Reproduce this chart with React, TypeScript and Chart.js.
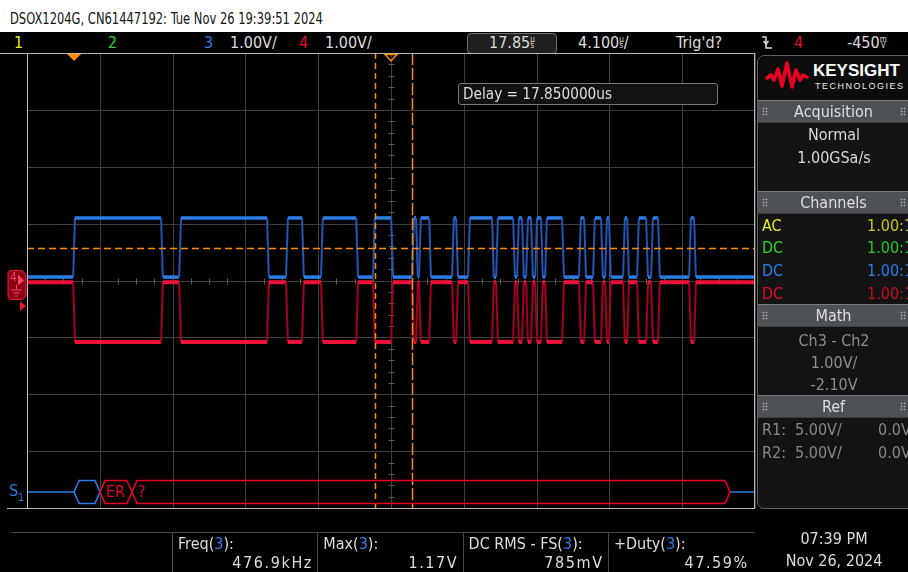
import React, { useEffect, useRef } from "react";
import { Chart, registerables } from "chart.js";

Chart.register(...registerables);

const W = 908;
const H = 572;
const NARROW =
  '"Liberation Sans Narrow", "DejaVu Sans Condensed", "Arial Narrow", "Liberation Sans", sans-serif';

// ---- time base / vertical scale ----
const timePerDiv = 4.1; // µs / div
const delay = 17.85; // µs (screen centre)
const xDivisions = [-5, -4, -3, -2, -1, 0, 1, 2, 3, 4, 5];
const yDivisions = [-4, -3, -2, -1, 0, 1, 2, 3, 4]; // 1.00 V/div

// ---- waveform data (edge times in µs, alternating rise / fall of Ch3) ----
const ch3EdgeTimes = [
  0.0, 4.95, 5.97, 10.92, 11.99, 12.89, 13.96, 15.94, 16.89, 17.91, 19.09, 19.31,
  19.48, 20.05, 21.34, 21.57, 22.24, 23.59, 23.82, 24.78, 25.0, 25.28, 25.51, 25.79,
  26.02, 26.35, 26.58, 27.54, 28.49, 28.78, 29.28, 29.73, 29.96, 30.18, 30.97, 31.2,
  31.76, 32.27, 32.55, 32.94, 34.69, 34.97,
];
const ch3Levels = [0.06, 1.1]; // idle, active (V)
const ch4Levels = [-0.03, -1.08]; // idle, active (V)
const edgeRamp = 0.1; // µs

// ---- markers ----
const levelLineV = 0.58;
const cursorTimes = [16.95, 19.03];
const triggerTime = 0;
const ch4Offset = 0;
const ch4TriggerLevel = -0.45;

// ---- serial decode frames ----
const decodeStarts = [0.0, 1.46, 3.26];
const decodeEnds = [1.46, 3.26, 36.94];
const decodeLabels = ["", "ER", "?"];
const decodeKinds = ["ok", "err", "err"];

// ---- side panel / measurements ----
const channelCoupling = ["AC", "DC", "DC", "DC"];
const channelProbe = ["1.00:1", "1.00:1", "1.00:1", "1.00:1"];
const channelColors = ["rgb(235,235,35)", "rgb(45,215,45)", "rgb(45,125,235)", "rgb(225,10,45)"];
const channelValueColors = ["rgb(200,200,25)", "rgb(40,200,40)", "rgb(45,120,230)", "rgb(205,10,40)"];
const measureLabels = ["Freq", "Max", "DC RMS - FS", "+Duty"];
const measureValues = ["476.9kHz", "1.17V", "785mV", "47.59%"];

const BLUE = "rgb(45,125,230)";
const BLUE_EDGE = "rgb(35,85,180)";
const RED = "rgb(238,18,58)";
const RED_EDGE = "rgb(165,0,35)";
const ORANGE = "rgb(250,140,10)";
const GRID = "rgb(62,62,62)";

function buildTrace(edges: number[], levels: number[]) {
  const xMin = delay - 5 * timePerDiv;
  const xMax = delay + 5 * timePerDiv;
  const pts: { x: number; y: number }[] = [{ x: xMin, y: levels[0] }];
  let state = 0;
  edges.forEach((t) => {
    const next = 1 - state;
    pts.push({ x: t - edgeRamp / 2, y: levels[state] });
    pts.push({ x: t + edgeRamp / 2, y: levels[next] });
    state = next;
  });
  pts.push({ x: xMax, y: levels[state] });
  return pts;
}

const scopePlugin = {
  id: "scopeDecor",
  beforeDatasetsDraw(chart: any) {
    const { ctx, chartArea: a, scales } = chart;
    const xs = scales.x;
    const ys = scales.y;
    ctx.save();
    ctx.strokeStyle = GRID;
    ctx.lineWidth = 1;
    xDivisions.forEach((d) => {
      const px = Math.round(xs.getPixelForValue(delay + d * timePerDiv)) + 0.5;
      ctx.beginPath();
      ctx.moveTo(px, a.top);
      ctx.lineTo(px, a.bottom);
      ctx.stroke();
    });
    yDivisions.forEach((d) => {
      const py = Math.round(ys.getPixelForValue(d)) + 0.5;
      ctx.beginPath();
      ctx.moveTo(a.left, py);
      ctx.lineTo(a.right, py);
      ctx.stroke();
    });
    // minor ticks on centre axes
    ctx.strokeStyle = "rgb(90,90,90)";
    const cx = Math.round(xs.getPixelForValue(delay)) + 0.5;
    const cy = Math.round(ys.getPixelForValue(0)) + 0.5;
    xDivisions.slice(0, -1).forEach((d) => {
      [0.25, 0.5, 0.75].forEach((q) => {
        const px = Math.round(xs.getPixelForValue(delay + (d + q) * timePerDiv)) + 0.5;
        ctx.beginPath();
        ctx.moveTo(px, cy - 3);
        ctx.lineTo(px, cy + 3);
        ctx.stroke();
      });
    });
    yDivisions.slice(0, -1).forEach((d) => {
      [0.2, 0.4, 0.6, 0.8].forEach((q) => {
        const py = Math.round(ys.getPixelForValue(d + q)) + 0.5;
        ctx.beginPath();
        ctx.moveTo(cx - 3, py);
        ctx.lineTo(cx + 3, py);
        ctx.stroke();
      });
    });
    ctx.restore();
  },
  afterDatasetsDraw(chart: any) {
    const { ctx, chartArea: a, scales } = chart;
    const xs = scales.x;
    const ys = scales.y;
    ctx.save();

    // orange level line
    ctx.strokeStyle = ORANGE;
    ctx.lineWidth = 1.5;
    ctx.setLineDash([7, 4]);
    const ly = Math.round(ys.getPixelForValue(levelLineV)) + 0.5;
    ctx.beginPath();
    ctx.moveTo(a.left, ly);
    ctx.lineTo(a.right, ly);
    ctx.stroke();

    // cursors
    ctx.lineWidth = 1.5;
    cursorTimes.forEach((t, i) => {
      ctx.setLineDash(i === 0 ? [6, 4] : [12, 3]);
      const px = Math.round(xs.getPixelForValue(t)) + 0.5;
      ctx.beginPath();
      ctx.moveTo(px, a.top);
      ctx.lineTo(px, a.bottom);
      ctx.stroke();
    });
    ctx.setLineDash([]);

    // borders
    ctx.strokeStyle = "rgb(185,185,185)";
    ctx.lineWidth = 1;
    ctx.beginPath();
    ctx.moveTo(0, a.top + 0.5);
    ctx.lineTo(a.right, a.top + 0.5);
    ctx.moveTo(7, a.bottom + 0.5);
    ctx.lineTo(a.right, a.bottom + 0.5);
    ctx.moveTo(a.left + 0.5, a.top);
    ctx.lineTo(a.left + 0.5, a.bottom);
    ctx.moveTo(a.right - 0.5, a.top);
    ctx.lineTo(a.right - 0.5, a.bottom);
    ctx.stroke();

    // trigger position marker (filled) and delay marker (hollow)
    const tx = xs.getPixelForValue(triggerTime);
    ctx.fillStyle = ORANGE;
    ctx.beginPath();
    ctx.moveTo(tx - 7, a.top + 1);
    ctx.lineTo(tx + 7, a.top + 1);
    ctx.lineTo(tx, a.top + 8);
    ctx.closePath();
    ctx.fill();
    const dx = xs.getPixelForValue(delay);
    ctx.strokeStyle = ORANGE;
    ctx.lineWidth = 1.5;
    ctx.beginPath();
    ctx.moveTo(dx - 6, a.top + 1.5);
    ctx.lineTo(dx + 6, a.top + 1.5);
    ctx.lineTo(dx, a.top + 8);
    ctx.closePath();
    ctx.stroke();

    // ch4 ground marker
    const gy = ys.getPixelForValue(ch4Offset);
    ctx.fillStyle = "rgb(140,0,22)";
    ctx.strokeStyle = "rgb(235,30,60)";
    ctx.lineWidth = 1;
    ctx.beginPath();
    ctx.moveTo(10, gy - 10);
    ctx.lineTo(22, gy - 10);
    ctx.lineTo(26, gy - 6);
    ctx.lineTo(26, gy + 16);
    ctx.lineTo(22, gy + 19);
    ctx.lineTo(10, gy + 19);
    ctx.lineTo(8, gy + 16);
    ctx.lineTo(8, gy - 8);
    ctx.closePath();
    ctx.fill();
    ctx.stroke();
    ctx.fillStyle = "rgb(240,70,95)";
    ctx.font = `12px ${NARROW}`;
    ctx.textBaseline = "middle";
    ctx.fillText("4", 10, gy - 3);
    ctx.beginPath();
    ctx.moveTo(18, gy - 6);
    ctx.lineTo(24, gy);
    ctx.lineTo(18, gy + 5);
    ctx.closePath();
    ctx.fill();
    ctx.strokeStyle = "rgb(240,70,95)";
    ctx.beginPath();
    ctx.moveTo(16.5, gy + 4);
    ctx.lineTo(16.5, gy + 9);
    ctx.moveTo(11, gy + 9.5);
    ctx.lineTo(22, gy + 9.5);
    ctx.moveTo(13, gy + 12.5);
    ctx.lineTo(20, gy + 12.5);
    ctx.moveTo(15, gy + 15.5);
    ctx.lineTo(18, gy + 15.5);
    ctx.stroke();

    // ch4 trigger level arrow
    const ty = ys.getPixelForValue(ch4TriggerLevel);
    ctx.fillStyle = "rgb(235,20,55)";
    ctx.beginPath();
    ctx.moveTo(20, ty - 5);
    ctx.lineTo(26, ty);
    ctx.lineTo(20, ty + 5);
    ctx.closePath();
    ctx.fill();

    // serial decode bus
    const busY = a.bottom - 16;
    const hh = 11.5;
    const inset = 5;
    ctx.lineWidth = 1.6;
    const first = xs.getPixelForValue(decodeStarts[0]);
    const last = xs.getPixelForValue(decodeEnds[decodeEnds.length - 1]);
    ctx.strokeStyle = BLUE;
    ctx.beginPath();
    ctx.moveTo(a.left + 1, busY);
    ctx.lineTo(first, busY);
    ctx.moveTo(last, busY);
    ctx.lineTo(a.right - 1, busY);
    ctx.stroke();
    decodeStarts.forEach((s, i) => {
      const x0 = xs.getPixelForValue(s);
      const x1 = xs.getPixelForValue(decodeEnds[i]);
      const col = decodeKinds[i] === "ok" ? BLUE : "rgb(230,0,30)";
      ctx.strokeStyle = col;
      ctx.beginPath();
      ctx.moveTo(x0, busY);
      ctx.lineTo(x0 + inset, busY - hh);
      ctx.lineTo(x1 - inset, busY - hh);
      ctx.lineTo(x1, busY);
      ctx.lineTo(x1 - inset, busY + hh);
      ctx.lineTo(x0 + inset, busY + hh);
      ctx.closePath();
      ctx.stroke();
      if (decodeLabels[i]) {
        ctx.fillStyle = col;
        ctx.font = `16px ${NARROW}`;
        ctx.textBaseline = "middle";
        ctx.fillText(decodeLabels[i], x0 + inset + 1, busY + 1);
      }
    });
    ctx.restore();
  },
};

type TxtProps = {
  x: number;
  y: number;
  size?: number;
  color?: string;
  align?: "left" | "right" | "center";
  font?: string;
  weight?: number;
  ls?: number;
  sx?: number;
  children: React.ReactNode;
};

function Txt({ x, y, size = 16, color = "rgb(222,222,222)", align = "left", font = NARROW, weight = 400, ls, sx, children }: TxtProps) {
  const lh = Math.round(size * 1.2);
  const style: React.CSSProperties = {
    position: "absolute",
    top: y - lh / 2,
    lineHeight: `${lh}px`,
    fontSize: size,
    color,
    fontFamily: font,
    fontWeight: weight,
    whiteSpace: "nowrap",
    letterSpacing: ls,
  };
  const scale = sx ? ` scaleX(${sx})` : "";
  if (align === "left") {
    style.left = x;
    if (sx) {
      style.transform = scale;
      style.transformOrigin = "left center";
    }
  } else if (align === "right") {
    style.right = W - x;
    if (sx) {
      style.transform = scale;
      style.transformOrigin = "right center";
    }
  } else {
    style.left = x;
    style.transform = "translateX(-50%)" + scale;
  }
  return <div style={style}>{children}</div>;
}

function Units({ top, bottom }: { top: string; bottom: string }) {
  return (
    <span
      style={{
        display: "inline-block",
        fontSize: 8,
        lineHeight: "6px",
        verticalAlign: "top",
        marginTop: 4,
        textAlign: "center",
      }}
    >
      {top}
      <br />
      {bottom}
    </span>
  );
}

function Header({ top, label }: { top: number; label: string }) {
  const dots: React.CSSProperties = {
    position: "absolute",
    top: 6,
    width: 6,
    height: 9,
    backgroundImage: "radial-gradient(circle, rgb(170,170,170) 0.8px, transparent 1.1px)",
    backgroundSize: "3px 3px",
  };
  return (
    <div
      style={{
        position: "absolute",
        left: 758,
        top,
        width: 160,
        height: 21,
        background: "rgb(78,82,86)",
        borderTop: "1px solid rgb(120,122,125)",
        borderBottom: "1px solid rgb(60,62,64)",
      }}
    >
      <div style={{ ...dots, left: 4 }} />
      <div style={{ ...dots, left: 142 }} />
      <div
        style={{
          position: "absolute",
          left: 0,
          width: 151,
          top: 0,
          lineHeight: "21px",
          textAlign: "center",
          fontSize: 16,
          color: "rgb(222,222,222)",
          fontFamily: NARROW,
        }}
      >
        {label}
      </div>
    </div>
  );
}

export default function App() {
  const canvasRef = useRef<HTMLCanvasElement>(null);

  useEffect(() => {
    const xMin = delay - 5 * timePerDiv;
    const xMax = delay + 5 * timePerDiv;
    const chart = new Chart(canvasRef.current as HTMLCanvasElement, {
      type: "line",
      data: {
        datasets: [
          {
            label: "Ch4",
            data: buildTrace(ch3EdgeTimes, ch4Levels),
            borderColor: RED,
            borderWidth: 4,
            pointRadius: 0,
            tension: 0,
            borderJoinStyle: "round",
            segment: {
              borderColor: (c: any) => (Math.abs(c.p1.y - c.p0.y) > 15 ? RED_EDGE : undefined),
              borderWidth: (c: any) => (Math.abs(c.p1.y - c.p0.y) > 15 ? 2 : undefined),
            },
          } as any,
          {
            label: "Ch3",
            data: buildTrace(ch3EdgeTimes, ch3Levels),
            borderColor: BLUE,
            borderWidth: 3.5,
            pointRadius: 0,
            tension: 0,
            borderJoinStyle: "round",
            segment: {
              borderColor: (c: any) => (Math.abs(c.p1.y - c.p0.y) > 15 ? BLUE_EDGE : undefined),
              borderWidth: (c: any) => (Math.abs(c.p1.y - c.p0.y) > 15 ? 2 : undefined),
            },
          } as any,
        ],
      },
      options: {
        animation: false,
        responsive: false,
        maintainAspectRatio: false,
        events: [],
        layout: { padding: { left: 27, top: 53, right: W - 755, bottom: H - 508 } },
        scales: {
          x: { type: "linear", min: xMin, max: xMax, display: false },
          y: { type: "linear", min: -4, max: 4, display: false },
        },
        plugins: { legend: { display: false }, tooltip: { enabled: false } },
      },
      plugins: [scopePlugin],
    });
    return () => chart.destroy();
  }, []);

  return (
    <div
      style={{
        position: "absolute",
        left: 0,
        top: 0,
        width: W,
        height: H,
        background: "#000",
        overflow: "hidden",
        fontFamily: NARROW,
      }}
    >
      {/* title strip */}
      <div style={{ position: "absolute", left: 0, top: 0, width: W, height: 32, background: "#fff" }} />
      <Txt x={10} y={18} color="rgb(20,20,20)" sx={0.8}>
        DSOX1204G, CN61447192: Tue Nov 26 19:39:51 2024
      </Txt>

      {/* status bar */}
      <Txt x={14} y={42} color={channelColors[0]}>1</Txt>
      <Txt x={108} y={42} color={channelColors[1]}>2</Txt>
      <Txt x={204} y={42} color={channelColors[2]}>3</Txt>
      <Txt x={230} y={42}>1.00V/</Txt>
      <Txt x={299} y={42} color={channelColors[3]}>4</Txt>
      <Txt x={325} y={42}>1.00V/</Txt>
      <div
        style={{
          position: "absolute",
          left: 467,
          top: 33,
          width: 88,
          height: 19,
          border: "1px solid rgb(110,110,110)",
          borderRadius: 4,
          background: "rgb(32,32,32)",
        }}
      />
      <Txt x={489} y={42}>
        17.85<Units top="µ" bottom="s" />
      </Txt>
      <Txt x={578} y={42}>
        4.100<Units top="µ" bottom="s" />/
      </Txt>
      <Txt x={676} y={42}>Trig'd?</Txt>
      <svg style={{ position: "absolute", left: 761, top: 35 }} width={12} height={15}>
        <polyline points="1,2 5,2 5,13 11,13" fill="none" stroke="rgb(222,222,222)" strokeWidth={1.5} />
        <polyline points="2.5,6 5,9 7.5,6" fill="none" stroke="rgb(222,222,222)" strokeWidth={1.5} />
      </svg>
      <Txt x={794} y={42} color={channelColors[3]}>4</Txt>
      <Txt x={847} y={42}>
        -450<Units top="m" bottom="V" />
      </Txt>

      <canvas
        ref={canvasRef}
        width={W}
        height={H}
        style={{ position: "absolute", left: 0, top: 0, width: W, height: H }}
      />

      {/* delay box */}
      <div
        style={{
          position: "absolute",
          left: 458,
          top: 83,
          width: 258,
          height: 20,
          border: "1px solid rgb(120,120,120)",
          borderRadius: 3,
          background: "rgb(18,18,18)",
        }}
      />
      <Txt x={463} y={93.5} sx={0.95}>Delay = 17.850000us</Txt>

      {/* decode label */}
      <Txt x={9} y={490} color={BLUE}>
        S<span style={{ fontSize: 10, position: "relative", top: 5 }}>1</span>
      </Txt>

      {/* measurements */}
      <div style={{ position: "absolute", left: 12, top: 532, width: 743, height: 1, background: "rgb(72,72,72)" }} />
      {measureLabels.map((lab, i) => (
        <React.Fragment key={lab}>
          <div
            style={{
              position: "absolute",
              left: 172 + i * 145.3,
              top: 533,
              width: 1,
              height: 40,
              background: "rgb(72,72,72)",
            }}
          />
          <Txt x={178 + i * 145.3} y={543}>
            {lab}(<span style={{ color: BLUE }}>3</span>):
          </Txt>
          <Txt x={313 + i * 145.3} y={562} align="right" ls={1.6}>
            {measureValues[i]}
          </Txt>
        </React.Fragment>
      ))}

      {/* right panel */}
      <div
        style={{
          position: "absolute",
          left: 757,
          top: 55,
          width: 170,
          height: 452,
          border: "1px solid rgb(95,95,95)",
          borderRadius: 7,
          background: "rgb(20,20,20)",
        }}
      />
      <div style={{ position: "absolute", left: 758, top: 56, width: 160, height: 43, background: "rgb(12,12,12)", borderTopLeftRadius: 6 }} />
      <svg style={{ position: "absolute", left: 765, top: 60 }} width={44} height={32}>
        <polyline
          points="2,18 6,15 9,20 13,9 17,26 22,3 27,27 31,10 35,20 38,15 42,17"
          fill="none"
          stroke="rgb(232,0,35)"
          strokeWidth={3.6}
          strokeLinejoin="round"
          strokeLinecap="round"
        />
      </svg>
      <Txt x={813} y={71} size={17} weight={700} color="#fff" font='"Liberation Sans", Arial, sans-serif'>
        KEYSIGHT
      </Txt>
      <Txt x={815} y={86.5} size={9} color="rgb(235,235,235)" ls={1.5} font='"Liberation Sans", Arial, sans-serif'>
        TECHNOLOGIES
      </Txt>

      <Header top={100} label="Acquisition" />
      <Txt x={834} y={134} align="center" color="rgb(215,215,215)">Normal</Txt>
      <Txt x={834} y={157} align="center" color="rgb(215,215,215)">1.00GSa/s</Txt>

      <Header top={191} label="Channels" />
      {channelCoupling.map((c, i) => (
        <React.Fragment key={i}>
          <Txt x={762} y={225 + i * 22.7} color={channelColors[i]}>{c}</Txt>
          <Txt x={867} y={225 + i * 22.7} color={channelValueColors[i]}>{channelProbe[i]}</Txt>
        </React.Fragment>
      ))}

      <Header top={304} label="Math" />
      <Txt x={834} y={340} align="center" color="rgb(140,140,140)">Ch3 - Ch2</Txt>
      <Txt x={834} y={362} align="center" color="rgb(140,140,140)">1.00V/</Txt>
      <Txt x={834} y={384} align="center" color="rgb(140,140,140)">-2.10V</Txt>

      <Header top={395} label="Ref" />
      <Txt x={762} y={429} color="rgb(135,135,135)">R1:</Txt>
      <Txt x={795} y={429} color="rgb(135,135,135)">5.00V/</Txt>
      <Txt x={878} y={429} color="rgb(135,135,135)">0.0V</Txt>
      <Txt x={762} y={452} color="rgb(135,135,135)">R2:</Txt>
      <Txt x={795} y={452} color="rgb(135,135,135)">5.00V/</Txt>
      <Txt x={878} y={452} color="rgb(135,135,135)">0.0V</Txt>

      <Txt x={834} y={538} align="center">07:39 PM</Txt>
      <Txt x={834} y={560} align="center">Nov 26, 2024</Txt>
    </div>
  );
}
